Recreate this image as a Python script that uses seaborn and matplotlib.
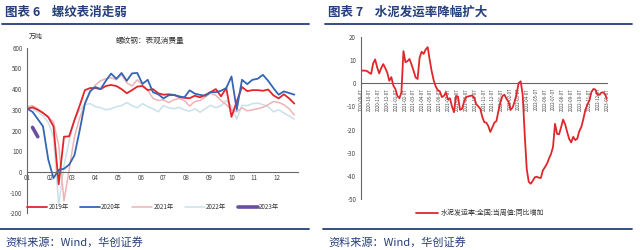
import numpy as np
import pandas as pd
import matplotlib
matplotlib.use('Agg')
import matplotlib.pyplot as plt
import seaborn as sns

sns.set_style('white')
plt.rcParams['font.family'] = ['Noto Sans CJK SC', 'DejaVu Sans']
plt.rcParams['axes.unicode_minus'] = False

# ---------------- data: left chart (weekly rebar apparent consumption, 万吨) -------------
weeks = list(range(1, 53))
rebar_2019 = [305, 312, 300, 285, 265, 220, -60, 170, 172, 250, 320, 395, 405, 405, 400, 415,
              420, 415, 400, 380, 395, 412, 415, 395, 400, 380, 373, 375, 372, 362, 358, 356,
              368, 360, 372, 385, 400, 365, 405, 266, 340, 410, 390, 395, 395, 392, 398, 370,
              355, 375, 355, 330]
rebar_2020 = [305, 290, 255, 220, 60, -30, 10, 15, 35, 80, 200, 330, 390, 410, 400, 440,
              475, 450, 478, 440, 476, 478, 425, 445, 385, 375, 355, 370, 372, 365, 360, 394,
              378, 372, 368, 386, 385, 392, 405, 461, 300, 445, 424, 445, 450, 469, 440, 405,
              373, 389, 381, 373]
rebar_2021 = [315, 320, 305, 285, 265, 240, 130, -140, 10, 170, 260, 330, 385, 420, 440, 450,
              455, 445, 470, 430, 415, 445, 420, 395, 355, 345, 348, 335, 348, 355, 345, 318,
              340, 345, 362, 380, 370, 345, 325, 300, 290, 310, 295, 300, 305, 312, 325, 340,
              335, 325, 305, 275]
rebar_2022 = [310, 305, 290, 270, 240, 170, -160, 30, 150, 250, 300, 325, 330, 315, 310, 300,
              305, 315, 320, 335, 320, 310, 330, 315, 305, 290, 320, 310, 305, 312, 300, 293,
              305, 288, 305, 322, 310, 320, 345, 318, 255, 322, 320, 330, 332, 325, 315, 290,
              300, 285, 270, 255]
weeks_2023 = [2, 3]
rebar_2023 = [215, 170]
series_names = ['2019年', '2020年', '2021年', '2022年', '2023年']
month_labels = ['01', '02', '03', '04', '05', '06', '07', '08', '09', '10', '11', '12']
left_yticks = [-200, -100, 0, 100, 200, 300, 400, 500, 600]

# ---------------- data: right chart (cement shipping rate YoY, weekly) -------------
cement_start = '2020-09-07'
cement_yoy = [5.4, 5.4, 5.4, 5.2, 4.5, 4.0, 8.5, 10.2, 6.8, 4.2, 6.5, 8.2, 6.5, 4.5, 1.0, 2.6,
              -1.0, -2.5, -5.5, -6.5, -4.0, 13.8, 9.0, 9.5, 10.4, 8.0, 5.4, 2.5, 1.8, 11.0, 13.5,
              12.6, 14.5, 15.5, 10.0, 5.0, 1.1, -1.5, -3.0, -3.5, -6.0, -5.5, -4.0, -7.0, -6.5,
              -10.0, -12.5, -5.5, -5.8, -11.5, -11.0, -8.0, -6.0, -5.7, -5.5, -5.3, -6.3, -9.0,
              -10.0, -11.0, -14.5, -16.8, -17.0, -18.5, -21.0, -19.0, -17.0, -16.3, -12.0, -8.1,
              -5.5, -5.0, -6.8, -8.0, -11.5, -10.5, -8.0, -4.5, 0.0, 0.8, -5.0, -22.0, -37.0,
              -42.5, -43.3, -42.0, -40.5, -40.3, -40.7, -40.8, -37.5, -36.2, -34.7, -32.5,
              -30.5, -27.5, -17.5, -21.8, -22.0, -19.0, -15.7, -17.7, -21.0, -24.0, -25.5,
              -23.1, -24.5, -23.9, -20.7, -18.9, -15.5, -11.5, -9.2, -7.5, -3.8, -2.5, -2.8,
              -5.0, -5.0, -4.0, -4.0, -5.3, -7.5]
cement_tick_start = '2020-09-07'
cement_tick_end = '2023-01-07'
right_yticks = [-50, -40, -30, -20, -10, 0, 10, 20]
cement_name = '水泥发运率:全国:当周值:同比增加'

# ---------------- styling -------------
HEAD = '#253F7A'
colors = ['#E0262B', '#3466B4', '#F0B3B5', '#C8E1EA', '#6B4E9E']
widths = [1.3, 1.3, 1.1, 1.1, 2.6]
tick_col = '#444444'

fig = plt.figure(figsize=(6.4, 2.5), dpi=100)
W, H = 640.0, 250.0

def fx(px):
    return px / W

def fy(py):
    return 1 - py / H

# headers / footers
for x0, x1, title in [(2, 309, '图表 6    螺纹表消走弱'), (325, 632, '图表 7    水泥发运率降幅扩大')]:
    fig.text(fx(x0 + 3), fy(12), title, fontsize=9, fontweight='bold', color=HEAD,
             ha='left', va='center')
    fig.add_artist(plt.Line2D([fx(x0), fx(x1)], [fy(24), fy(24)], color=HEAD, lw=1.3))
    fig.add_artist(plt.Line2D([fx(x0 - 2), fx(x1)], [fy(229), fy(229)], color=HEAD, lw=1.3))
    fig.text(fx(x0 + 3), fy(242), '资料来源：Wind，华创证券', fontsize=8, color=HEAD,
             ha='left', va='center', style='italic')

# ---------------- left chart -------------
axL = fig.add_axes([fx(27.3), fy(213.3), fx(298 - 27.3), (213.3 - 47.7) / H])
long_rows = []
for name, vals in zip(series_names[:4], [rebar_2019, rebar_2020, rebar_2021, rebar_2022]):
    long_rows.append(pd.DataFrame({'week': weeks, 'value': vals, 'series': name}))
long_rows.append(pd.DataFrame({'week': weeks_2023, 'value': rebar_2023, 'series': series_names[4]}))
df = pd.concat(long_rows, ignore_index=True)

order_draw = [3, 2, 0, 1, 4]
for i in order_draw:
    name = series_names[i]
    sub = df[df['series'] == name]
    sns.lineplot(data=sub, x='week', y='value', ax=axL, color=colors[i], lw=widths[i],
                 label=name, legend=False)

axL.set_xlim(1, 52.7)
axL.set_ylim(-200, 600)
axL.set_yticks(left_yticks)
axL.set_yticklabels([str(v) for v in left_yticks])
month_pos = [1 + m * 52 / 12 for m in range(12)]
axL.set_xticks(month_pos)
axL.set_xticklabels(month_labels)
axL.set_xlabel('')
axL.set_ylabel('')
for s in ['top', 'right']:
    axL.spines[s].set_visible(False)
axL.spines['bottom'].set_position(('data', 0))
axL.spines['bottom'].set_color('#666666')
axL.spines['left'].set_color('#666666')
axL.spines['bottom'].set_linewidth(0.8)
axL.spines['left'].set_linewidth(0.8)
axL.tick_params(axis='both', labelsize=4.5, colors=tick_col, length=2, width=0.6, pad=1.5)
axL.tick_params(axis='x', direction='in')
axL.set_facecolor('none')

fig.text(fx(36), fy(37), '万吨', fontsize=5, color='#333333', ha='center', va='center')
fig.text(fx(150), fy(41), '螺纹钢：表观消费量', fontsize=5.5, color='#333333', ha='center', va='center')

handles = []
for i in range(5):
    handles.append(plt.Line2D([], [], color=colors[i], lw=widths[i]))
fig.legend(handles, series_names, loc='center', bbox_to_anchor=(fx(153), fy(207)), ncol=5,
           frameon=False, fontsize=4.5, handlelength=3.2, columnspacing=1.8, handletextpad=0.2,
           labelcolor='#333333')

# ---------------- right chart -------------
axR = fig.add_axes([fx(361), fy(199.3), fx(607 - 361), (199.3 - 36.7) / H])
dates = pd.date_range(cement_start, periods=len(cement_yoy), freq='7D')
dfc = pd.DataFrame({'date': dates, 'yoy': cement_yoy})
sns.lineplot(data=dfc, x='date', y='yoy', ax=axR, color='#E0262B', lw=1.3, legend=False)
tick_dates = pd.date_range(pd.Timestamp('2020-09-01'), pd.Timestamp('2023-01-01'), freq='MS') + pd.Timedelta(days=6)
axR.set_xticks(list(tick_dates.to_pydatetime()))
axR.set_xticklabels([d.strftime('%Y-%m-%d') for d in tick_dates])
axR.set_xlim(pd.Timestamp(cement_tick_start), pd.Timestamp(cement_tick_end))
axR.set_ylim(-50, 20)
axR.set_yticks(right_yticks)
axR.set_xlabel('')
axR.set_ylabel('')
for s in ['top', 'right']:
    axR.spines[s].set_visible(False)
axR.spines['bottom'].set_position(('data', 0))
axR.spines['bottom'].set_color('#666666')
axR.spines['left'].set_color('#666666')
axR.spines['bottom'].set_linewidth(0.8)
axR.spines['left'].set_linewidth(0.8)
axR.tick_params(axis='y', labelsize=4.5, colors=tick_col, length=2, width=0.6, pad=1.5)
axR.tick_params(axis='x', labelsize=3.2, colors=tick_col, length=2, width=0.6, pad=1.5,
                labelrotation=90)
for lab in axR.get_xticklabels():
    lab.set_rotation(90)
    lab.set_va('top')
    lab.set_ha('center')
axR.set_facecolor('none')

fig.legend([plt.Line2D([], [], color='#E0262B', lw=1.3)], [cement_name], loc='center',
           bbox_to_anchor=(fx(480), fy(213)), frameon=False, fontsize=5, handlelength=3.2,
           handletextpad=0.3, labelcolor='#333333')

fig.savefig('out.png', dpi=100)
